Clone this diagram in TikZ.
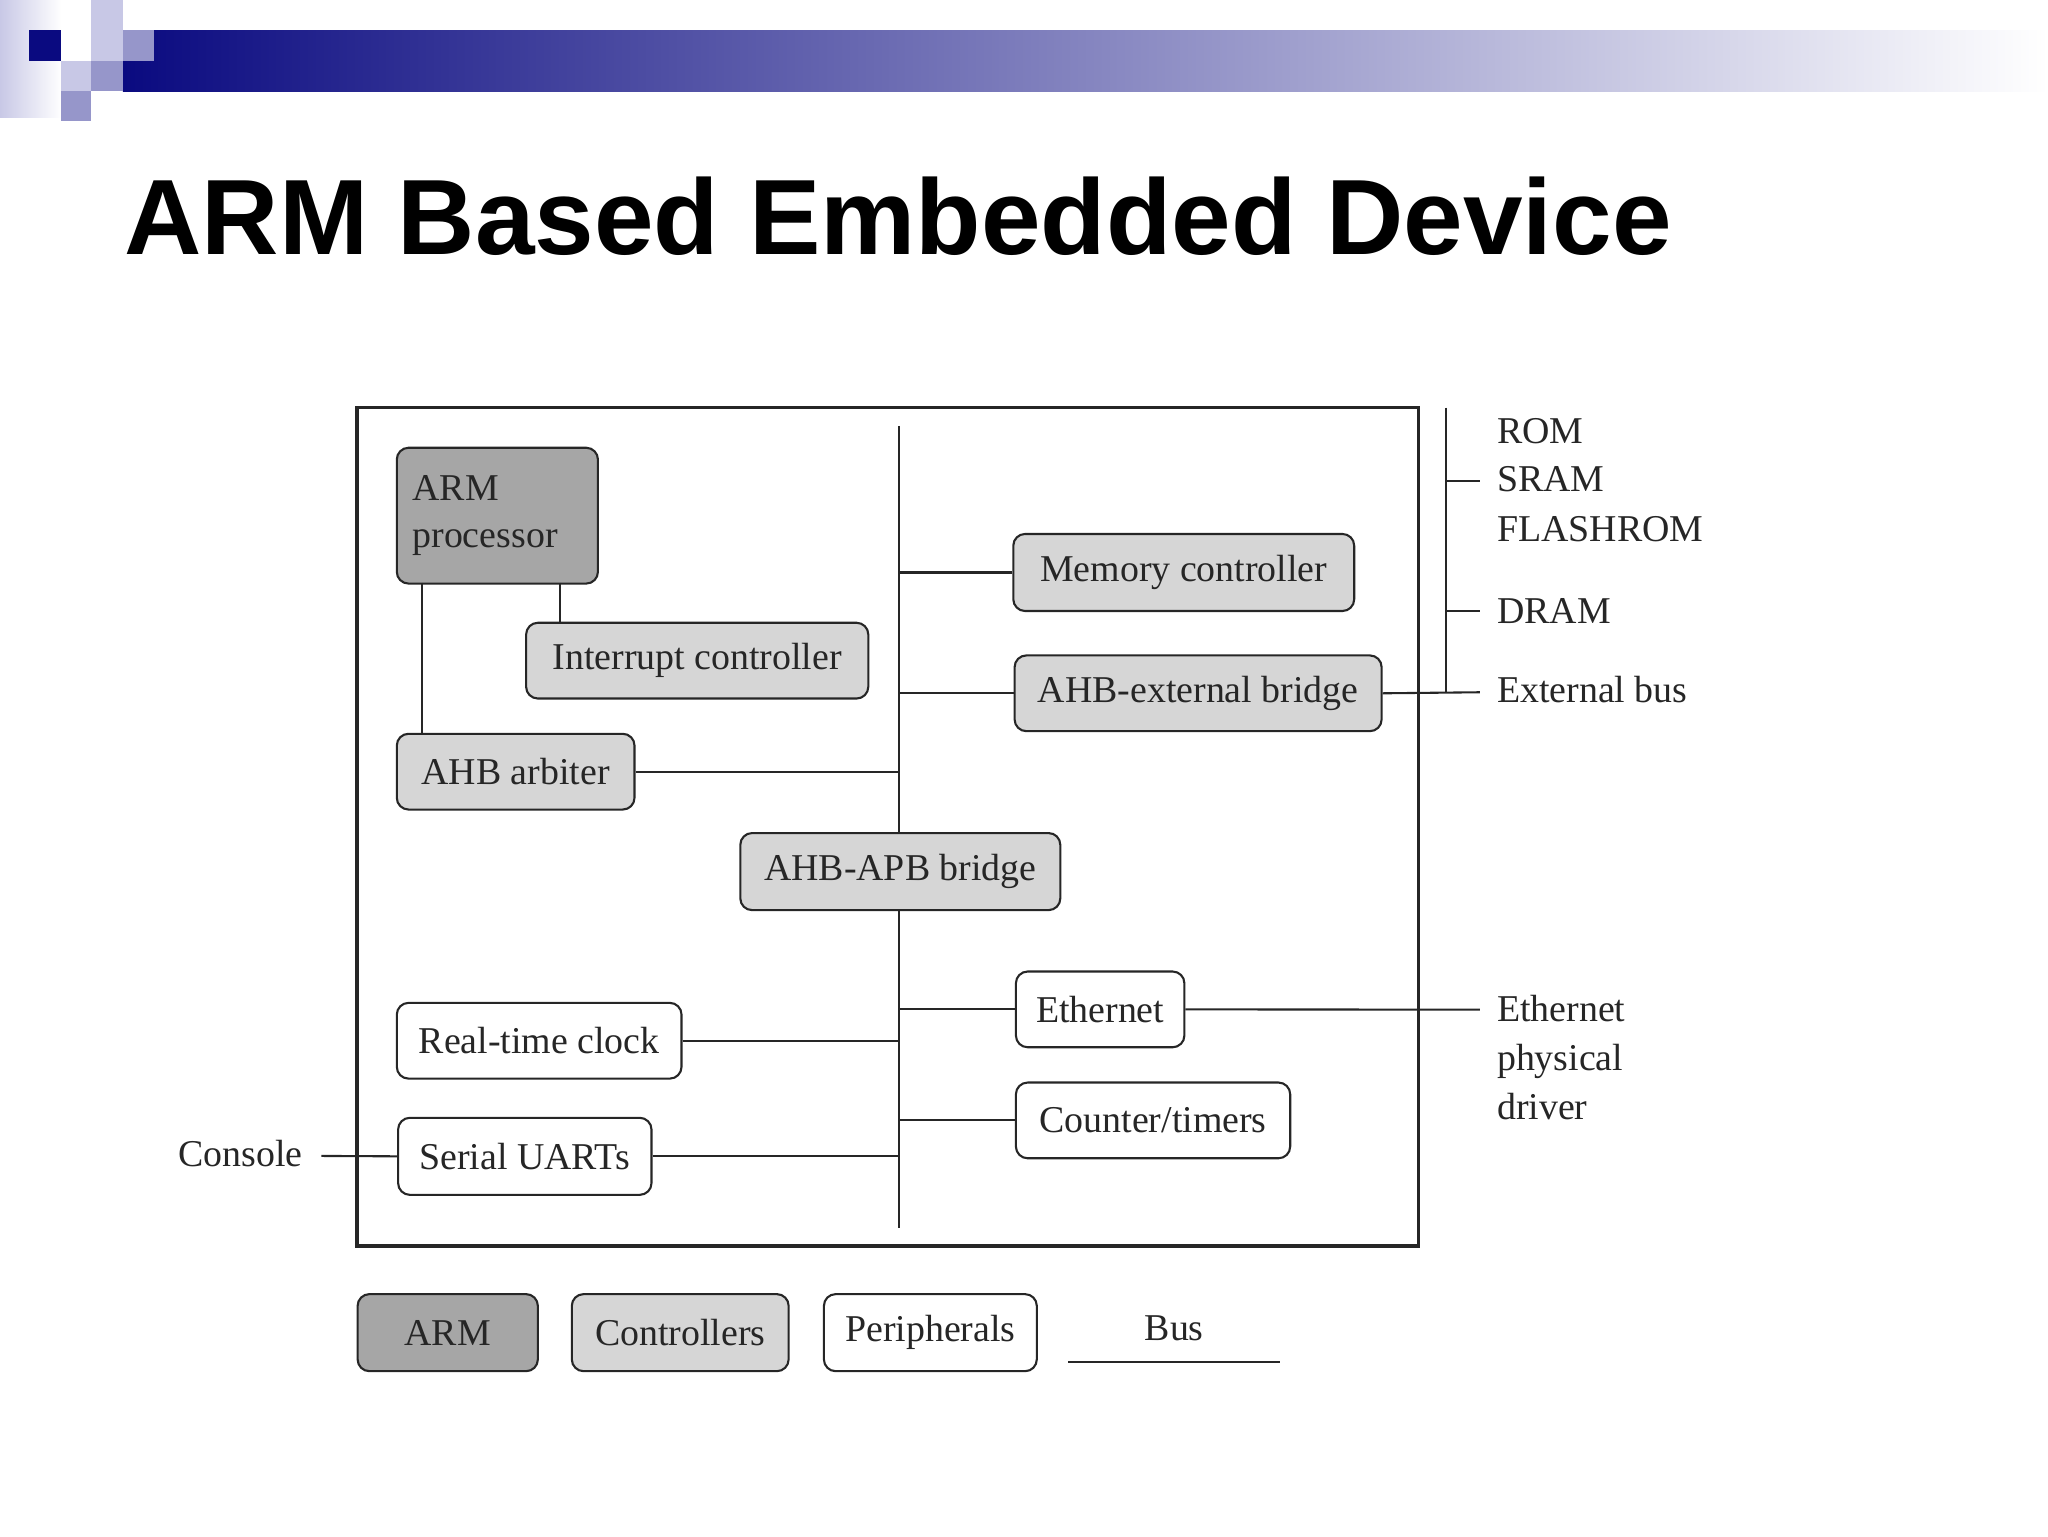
\documentclass[tikz,border=0pt]{standalone}
\usepackage{fontspec}
\setmainfont{Liberation Serif}
\newfontfamily\titlefont{Liberation Sans}
\usetikzlibrary{positioning}
\definecolor{navy}{HTML}{0A0A80}
\definecolor{lav}{HTML}{C8C8E6}
\definecolor{lavmid}{HTML}{9696CA}
\definecolor{armgray}{HTML}{A6A6A6}
\definecolor{ctlgray}{HTML}{D6D6D6}
\tikzset{
  blk/.style={draw=black!85, line width=1.6pt, rounded corners=9pt, anchor=north west,
    inner sep=0pt, font=\fontsize{29}{36}\selectfont, text=black!85},
  arm/.style={blk, fill=armgray},
  ctl/.style={blk, fill=ctlgray},
  per/.style={blk, fill=white},
  bus/.style={line width=1.6pt, black!85},
  lbl/.style={anchor=west, inner sep=0pt, font=\fontsize{29}{36}\selectfont, text=black!85}
}
\begin{document}
\begin{tikzpicture}[x=1pt,y=-1pt]
\useasboundingbox (0,0) rectangle (1568,1176);
% header decoration
\shade[left color=lav, right color=white] (0,0) rectangle (47,90);
\shade[left color=navy, right color=white] (94,23) rectangle (1568,70);
\fill[navy] (22,23) rectangle (47,47);
\fill[lav] (70,0) rectangle (94,23);
\fill[lav] (70,23) rectangle (94,47);
\fill[lavmid] (94,23) rectangle (118,47);
\fill[lav] (47,47) rectangle (70,70);
\fill[lavmid] (70,47) rectangle (94,70);
\fill[lavmid] (47,70) rectangle (70,93);
% title
\node[anchor=base west, inner sep=0pt, font=\titlefont\bfseries\fontsize{82}{90}\selectfont]
  (title) at (95,195) {ARM Based Embedded Device};
% frame
\draw[line width=3pt, black!85] (273,312) rectangle (1086,954);
% blocks
\node[arm, minimum width=154pt, minimum height=104pt, text width=130pt, align=left] (armp) at (303,342) {ARM\\processor};
\node[ctl, minimum width=262pt, minimum height=58pt] (intc) at (402,476) {Interrupt controller};
\node[ctl, minimum width=182pt, minimum height=58pt] (arb) at (303,561) {AHB arbiter};
\node[ctl, minimum width=261pt, minimum height=59pt] (memc) at (775,408) {Memory controller};
\node[ctl, minimum width=281pt, minimum height=58pt] (ext) at (776,501) {AHB-external bridge};
\node[ctl, minimum width=245pt, minimum height=59pt] (apb) at (566,637) {AHB-APB bridge};
\node[per, minimum width=129pt, minimum height=58pt] (eth) at (777,743) {Ethernet};
\node[per, minimum width=210pt, minimum height=58pt] (cnt) at (777,828) {Counter/timers};
\node[per, minimum width=218pt, minimum height=58pt] (rtc) at (303,767) {Real-time clock};
\node[per, minimum width=194pt, minimum height=59pt] (uart) at (304,855) {Serial UARTs};
% bus
\coordinate (bt) at (688,326);
\coordinate (bb) at (688,940);
\draw[bus] (bt) -- (apb.north -| bt);
\draw[bus] (apb.south -| bt) -- (bb);
\draw[bus] (323,446) -- (323,561);
\draw[bus] (429,446) -- (429,476);
\draw[bus] (arb.east) -- (arb.east -| bt);
\draw[bus] (memc.west) -- (memc.west -| bt);
\draw[bus] (ext.west) -- (ext.west -| bt);
\draw[bus] (eth.west) -- (eth.west -| bt);
\draw[bus] (cnt.west) -- (cnt.west -| bt);
\draw[bus] (rtc.east) -- (rtc.east -| bt);
\draw[bus] (uart.east) -- (uart.east -| bt);
% external side
\coordinate (xt) at (1107,312);
\coordinate (xb) at (1107,530);
\draw[bus] (xt) -- (xb);
\draw[bus] (ext.east) -- (1133,530);
\draw[bus] (1107,368) -- (1133,368);
\draw[bus] (1107,468) -- (1133,468);
\draw[bus] (eth.east) -- (1133,773);
\node[lbl] (rom) at (1146,330) {ROM};
\node[lbl] (sram) at (1146,367) {SRAM};
\node[lbl] (flash) at (1146,405) {FLASHROM};
\node[lbl] (dram) at (1146,468) {DRAM};
\node[lbl] (xbus) at (1146,528) {External bus};
\node[lbl, align=left, text width=140pt, font=\fontsize{29}{37.5}\selectfont] (phy) at (1146,810) {Ethernet\\physical\\driver};
\node[lbl, anchor=east] (con) at (232,883) {Console};
\draw[bus] (246,885) -- (uart.west);
% legend
\node[arm, minimum width=138pt, minimum height=59pt] (lgarm) at (273,990) {ARM};
\node[ctl, minimum width=166pt, minimum height=59pt] (lgctl) at (437,990) {Controllers};
\node[per, minimum width=163pt, minimum height=59pt] (lgper) at (630,990) {Peripherals};
\node[lbl, anchor=center] (lgbus) at (899,1017) {Bus};
\draw[bus] (818,1043) -- (980,1043);
\end{tikzpicture}
\end{document}
